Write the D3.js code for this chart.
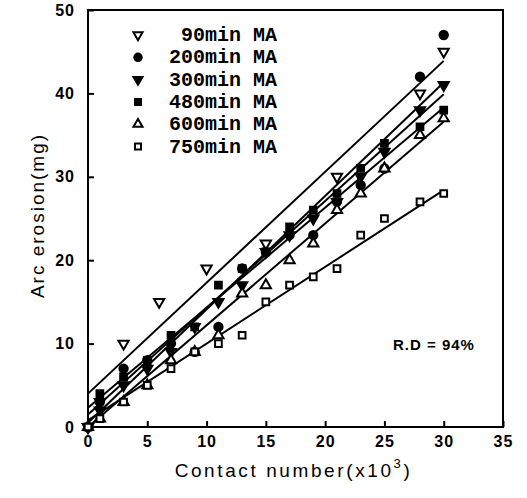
<!DOCTYPE html>
<html>
<head>
<meta charset="utf-8">
<script src="https://cdn.jsdelivr.net/npm/d3@7"></script>
<style>
  body { margin: 0; background: #fff; }
  svg { display: block; }
  .tick-label { font-family: "Liberation Sans", Arial, sans-serif; font-weight: bold; font-size: 16px; letter-spacing: 1px; }
  .axis-title { font-family: "Liberation Sans", Arial, sans-serif; font-size: 19px; }
  .legend text { font-family: "Liberation Mono", "Courier New", monospace; font-weight: bold; font-size: 20px; }
</style>
</head>
<body>
<div id="chart"></div>
<script>
// series names (legend order)
var seriesNames = ["90min MA", "200min MA", "300min MA", "480min MA", "600min MA", "750min MA"];

// contact number (x10^3) for each series
var x90 = [0, 1, 3, 6, 10, 15, 21, 28, 30];
var xAll = [0, 1, 3, 5, 7, 9, 11, 13, 15, 17, 19, 21, 23, 25, 28, 30];

// arc erosion (mg)
var y90 = [0, 3, 10, 15, 19, 22, 30, 40, 45];
var y200 = [0, 3, 7, 8, 10, 9, 12, 19, 21, 23, 23, 27, 29, 31, 42, 47];
var y300 = [0, 2, 5, 7, 9, 12, 15, 17, 21, 23, 25, 27, 30, 33, 38, 41];
var y480 = [0, 4, 6, 8, 11, 12, 17, 19, 21, 24, 26, 28, 31, 34, 36, 38];
var y600 = [0, 1, 3, 5, 8, 9, 11, 16, 17, 20, 22, 26, 28, 31, 35, 37];
var y750 = [0, 1, 3, 5, 7, 9, 10, 11, 15, 17, 18, 19, 23, 25, 27, 28];

// fitted straight lines (intercept, slope)
var fitIntercept = [4, 1.5, 0.5, 2.3, 0, 0.8];
var fitSlope = [1.33, 1.28, 1.36, 1.2, 1.22, 0.92];
var fitRange = [0, 30];

// ticks
var xTicks = [0, 5, 10, 15, 20, 25, 30, 35];
var yTicks = [0, 10, 20, 30, 40, 50];

var width = 527, height = 498;
var margin = { top: 10, right: 24, bottom: 71, left: 88 };
var innerWidth = width - margin.left - margin.right,
    innerHeight = height - margin.top - margin.bottom;

var xScale = d3.scaleLinear().domain([0, 35]).range([0, innerWidth]);
var yScale = d3.scaleLinear().domain([0, 50]).range([innerHeight, 0]);

var svg = d3.select("#chart").append("svg")
    .attr("width", width)
    .attr("height", height);

var g = svg.append("g")
    .attr("transform", "translate(" + margin.left + "," + margin.top + ")");

// frame
g.append("rect")
    .attr("x", 0).attr("y", 0)
    .attr("width", innerWidth).attr("height", innerHeight)
    .attr("fill", "none").attr("stroke", "#000").attr("stroke-width", 2);

// x axis, ticks pointing in
var xAxis = g.append("g")
    .attr("transform", "translate(0," + innerHeight + ")")
    .call(d3.axisBottom(xScale).tickValues(xTicks).tickSize(-6).tickPadding(9).tickSizeOuter(0));
xAxis.select(".domain").remove();
xAxis.selectAll("line").attr("stroke-width", 2);
xAxis.selectAll("text").attr("class", "tick-label").attr("fill", "#000");

// y axis, ticks pointing in
var yAxis = g.append("g")
    .call(d3.axisLeft(yScale).tickValues(yTicks).tickSize(-6).tickPadding(13).tickSizeOuter(0));
yAxis.select(".domain").remove();
yAxis.selectAll("line").attr("stroke-width", 2);
yAxis.selectAll("text").attr("class", "tick-label").attr("fill", "#000");

// axis titles
var xTitle = g.append("text")
    .attr("class", "axis-title")
    .attr("x", innerWidth / 2 - 2)
    .attr("y", innerHeight + 50)
    .attr("text-anchor", "middle")
    .attr("letter-spacing", "2.6px");
xTitle.append("tspan").text("Contact number(x10");
xTitle.append("tspan").attr("dy", -9).attr("font-size", "13px").text("3");
xTitle.append("tspan").attr("dy", 9).text(")");

g.append("text")
    .attr("class", "axis-title")
    .attr("letter-spacing", "2px")
    .attr("transform", "translate(-44," + (innerHeight / 2 - 3) + ") rotate(-90)")
    .attr("text-anchor", "middle")
    .text("Arc erosion(mg)");

// fit lines
seriesNames.forEach(function (name, i) {
    g.append("line")
        .attr("x1", xScale(fitRange[0]))
        .attr("y1", yScale(fitIntercept[i] + fitSlope[i] * fitRange[0]))
        .attr("x2", xScale(fitRange[1]))
        .attr("y2", yScale(fitIntercept[i] + fitSlope[i] * fitRange[1]))
        .attr("stroke", "#000")
        .attr("stroke-width", 2);
});

// marker styles per series
var symbolTypes = [d3.symbolTriangle, d3.symbolCircle, d3.symbolTriangle, d3.symbolSquare, d3.symbolTriangle, d3.symbolSquare];
var rotations = [180, 0, 180, 0, 0, 0];
var filled = [false, true, true, true, false, false];
var sizes = [45, 55, 45, 45, 45, 45];

var seriesX = [x90, xAll, xAll, xAll, xAll, xAll];
var seriesY = [y90, y200, y300, y480, y600, y750];

function marker(sel, i, k) {
    sel.attr("d", d3.symbol().type(symbolTypes[i]).size(sizes[i] * (k || 1)))
        .attr("fill", filled[i] ? "#000" : "#fff")
        .attr("stroke", "#000")
        .attr("stroke-width", 2);
}

seriesNames.forEach(function (name, i) {
    var pts = seriesX[i].map(function (x, j) { return [x, seriesY[i][j]]; });
    g.selectAll(".pt" + i)
        .data(pts)
        .enter().append("path")
        .attr("class", "pt" + i)
        .attr("transform", function (d) {
            return "translate(" + xScale(d[0]) + "," + yScale(d[1]) + ") rotate(" + rotations[i] + ")";
        })
        .call(marker, i);
});

// legend
var legend = g.append("g").attr("class", "legend");
seriesNames.forEach(function (name, i) {
    var ly = 25 + i * 22.3;
    legend.append("path")
        .attr("transform", "translate(50," + ly + ") rotate(" + rotations[i] + ")")
        .call(marker, i, 0.8);
    legend.append("text")
        .attr("x", 189)
        .attr("y", ly + 6)
        .attr("text-anchor", "end")
        .text(name);
});

// annotation
g.append("text")
    .attr("x", 305)
    .attr("y", innerHeight - 77)
    .attr("font-family", "Liberation Sans, Arial, sans-serif")
    .attr("font-weight", "bold")
    .attr("font-size", "15px")
    .attr("letter-spacing", "1px")
    .text("R.D = 94%");
</script>
</body>
</html>
